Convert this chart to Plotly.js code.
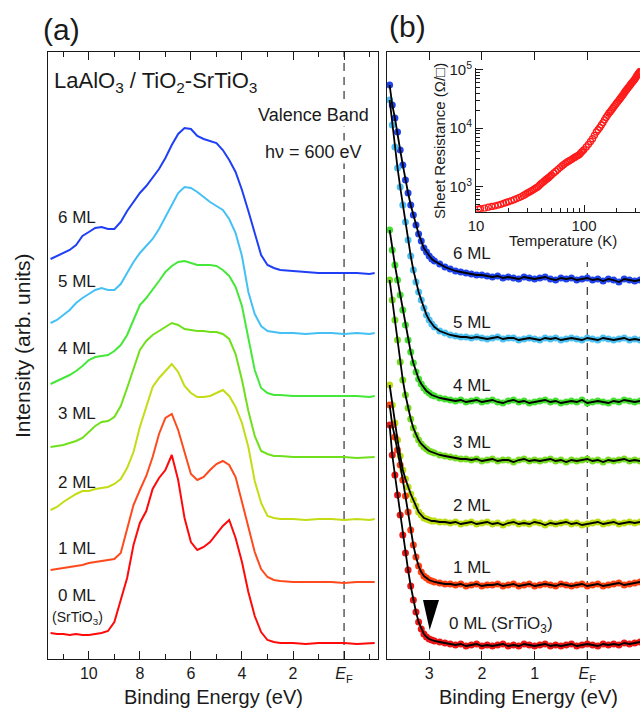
<!DOCTYPE html>
<html><head><meta charset="utf-8">
<script src="https://cdn.plot.ly/plotly-3.0.1.min.js"></script>
<style>html,body{margin:0;padding:0;background:#fff}#chart{width:640px;height:713px}</style>
</head><body><div id="chart"></div>
<script>
// ---------- Panel (a): valence band spectra ----------
const energyA = [11.5,11.25,11.0,10.75,10.5,10.25,10.0,9.75,9.5,9.25,9.0,8.75,8.5,8.25,8.0,7.75,7.5,7.25,7.0,6.75,6.5,6.25,6.0,5.75,5.5,5.25,5.0,4.75,4.5,4.25,4.0,3.75,3.5,3.25,3.0,2.75,2.5,2.0,1.5,1.0,0.5,0.0,-0.5,-1.0,-1.2];
const vb6ML = [401,404,407,410,415,424,428,432,433,431,431,438,449,458,467,474,482,491,502,515,526,532,531,524,521,519,517,510,500,488,470,449,427,405,395,392,390,389,388,387,387,387,387,386,387];
const vb5ML = [337,340,345,350,357,362,366,370,372,370,370,376,387,398,407,414,421,431,443,455,467,473,472,468,463,458,454,450,441,427,404,368,346,334,329,328,327,327,326,327,327,326,327,326,327];
const vb4ML = [276,279,282,285,289,294,300,303,304,305,309,315,325,340,355,362,370,379,388,394,398,399,397,395,395,395,394,390,384,373,354,320,290,272,267,265,265,264,264,264,264,264,264,263,264];
const vb3ML = [213,214,215,217,219,222,228,234,238,239,243,254,272,291,310,319,325,329,333,337,335,331,330,329,329,328,328,326,321,306,280,249,224,209,206,204,204,203,203,203,203,203,202,203,203];
const vb2ML = [150,153,158,162,166,169,169,171,172,173,176,181,192,208,233,254,273,282,289,296,288,274,267,263,263,264,267,270,264,253,237,213,179,157,144,142,141,141,140,141,141,140,141,140,141];
const vb1ML = [90,91,92,93,94,95,97,98,99,100,101,107,130,155,170,184,203,226,242,246,230,207,186,180,183,190,196,199,195,183,157,132,108,91,83,80,79,78,78,78,78,77,78,78,78];
const vb0ML = [27,26,26,25,26,25,25,26,27,29,38,60,82,115,137,149,171,182,190,205,180,142,118,110,113,118,126,134,140,122,98,68,44,28,20,18,17,17,16,17,17,17,16,17,17];

// ---------- Panel (b): band-edge region ----------
const energyB = [3.75,3.7,3.65,3.6,3.55,3.5,3.45,3.4,3.35,3.3,3.25,3.2,3.15,3.1,3.05,3.0,2.95,2.9,2.8,2.7,2.6,2.5,2.4,2.3,2.2,2.1,2.0,1.9,1.8,1.7,1.6,1.5,1.4,1.3,1.2,1.1,1.0,0.9,0.8,0.7,0.6,0.5,0.4,0.3,0.2,0.1,0.0,-0.1,-0.2,-0.3,-0.4,-0.5,-0.6,-0.7,-0.8,-0.9,-1.0];
const edge6ML = [575,555,542,528,510,495,480,467,455,445,435,426,419,412,408,404,401,399,396,393,391,389,388,387,386,385,385,384,383,384,382,383,382,381,383,382,381,382,383,381,380,382,381,382,380,381,382,380,381,379,381,380,378,381,380,379,380];
const edge5ML = [560,535,513,492,473,455,438,420,404,390,378,368,360,352,345,340,336,333,329,327,325,324,323,323,322,323,322,321,322,323,321,322,322,320,321,322,321,320,322,321,322,320,321,322,321,320,322,321,320,322,321,320,321,322,320,321,320];
const edge4ML = [430,410,395,380,365,350,335,320,308,297,288,281,276,272,269,267,265,264,262,261,260,259,260,258,259,260,258,259,260,258,257,259,260,258,259,257,258,259,260,258,259,257,258,259,258,260,257,258,259,258,257,259,258,260,259,258,259];
const edge3ML = [380,360,340,320,298,280,265,252,241,232,225,220,216,213,211,209,208,207,205,204,203,202,201,201,200,201,199,200,201,199,200,200,198,200,201,199,200,199,200,201,199,200,198,200,199,200,201,199,200,198,200,199,200,201,199,200,199];
const edge2ML = [275,255,237,220,204,190,181,173,166,160,154,148,145,142,141,140,139,139,138,138,137,138,136,137,138,136,137,138,136,137,135,137,138,136,137,136,138,137,135,137,136,137,138,136,137,135,136,137,138,136,137,138,136,137,138,137,138];
const edge1ML = [255,235,223,210,195,180,164,148,130,115,103,94,88,84,82,80,79,78,77,76,76,75,76,74,75,76,74,75,75,76,74,75,76,74,75,76,74,75,76,75,74,76,75,74,75,76,74,75,76,74,75,76,77,75,76,77,78];
const edge0ML = [235,205,185,165,145,125,107,90,74,60,48,38,31,26,23,21,20,19,18,17,16,15,16,14,15,16,14,15,14,15,16,14,15,14,16,15,14,15,16,14,15,14,15,16,14,15,16,15,14,16,15,16,15,17,16,17,18];

// ---------- Inset: sheet resistance vs temperature ----------
const tempK = [10.5,11,12,13,14,15,16,17,18,19,20,21.25,22.5,23.75,25,26.25,27.5,28.75,30,31.25,32.5,33.75,35,36.25,37.5,38.75,40,41.25,42.5,43.75,45,46.25,47.5,48.75,50,52.5,55,57.5,60,62.5,65,67.5,70,72.5,75,77.5,80,82.5,85,87.5,90,92.5,95,97.5,100,105,110,115,120,125,130,135,140,145,150,155,160,165,170,175,180,185,190,195,200,205,210,215,220,225,230,235,240,245,250,255,260,265,270,275,280,285,290,295,300,305,310,315,320,325,330];
const sheetR = [412,418,428,445,458,470,484,498,518,535,552,575,598,624,650,677,705,740,780,812,845,882,920,960,1000,1060,1120,1175,1230,1285,1340,1395,1450,1515,1580,1710,1840,1980,2120,2260,2400,2530,2650,2750,2850,2960,3080,3190,3300,3400,3500,3690,3900,4100,4300,4780,5300,5920,6600,7550,8600,9400,10300,11350,12500,13900,15300,16600,18000,19200,20500,22000,23500,25100,26700,28300,30000,31700,33500,35500,37500,39700,42000,44200,46500,48700,51000,53500,56000,58500,61000,63500,66000,69000,72000,76000,80000,83500,87000,90500,94000];

const labelsML = ['6 ML','5 ML','4 ML','3 ML','2 ML','1 ML','0 ML'];
const seriesA = [vb6ML,vb5ML,vb4ML,vb3ML,vb2ML,vb1ML,vb0ML];
const seriesB = [edge6ML,edge5ML,edge4ML,edge3ML,edge2ML,edge1ML,edge0ML];
const colorsA = ['#1f3ff5','#45c0f5','#45e83a','#70e01c','#c3dc14','#ff4a1e','#ff0a0a'];
const colorsB = ['#1f44ee','#4cc0f2','#44e030','#77dd22','#bbdd11','#ff4010','#ee1515'];

const W=640,H=713;
const px=x=>x/W, py=y=>1-y/H;
const FONT='Liberation Sans, Arial, Helvetica, sans-serif';
const INK='#1a1a1a';

const traces=[];
seriesA.forEach((s,i)=>{
  traces.push({x:energyA,y:s,xaxis:'x',yaxis:'y',mode:'lines',line:{color:colorsA[i],width:2},name:labelsML[i]});
});
seriesB.forEach((s,i)=>{
  traces.push({x:energyB,y:s,xaxis:'x2',yaxis:'y2',mode:'markers',marker:{color:colorsB[i],size:7},name:labelsML[i]+' data'});
});
seriesB.forEach((s,i)=>{
  traces.push({x:energyB,y:s,xaxis:'x2',yaxis:'y2',mode:'lines',line:{color:'#000',width:1.8},name:labelsML[i]+' fit'});
});
traces.push({x:tempK,y:sheetR,xaxis:'x3',yaxis:'y3',mode:'markers',
  marker:{symbol:'circle-open',size:6,color:'#ff1a1a',line:{width:1.3,color:'#ff1a1a'}},name:'R_s'});

const EF='<i>E</i><sub>F</sub>';
const axBase={showgrid:false,zeroline:false,showline:true,linecolor:INK,linewidth:1,tickcolor:INK,tickwidth:1,
  tickfont:{family:FONT,size:16,color:INK}};

const layout={
  width:W,height:H,margin:{l:0,r:0,t:0,b:0},paper_bgcolor:'#fff',plot_bgcolor:'rgba(0,0,0,0)',
  showlegend:false,hovermode:false,font:{family:FONT,color:INK},
  xaxis:Object.assign({},axBase,{domain:[px(48),px(378)],range:[11.6,-1.33],anchor:'y',mirror:'ticks',
    ticks:'inside',ticklen:8,tickmode:'array',tickvals:[10,8,6,4,2,0],ticktext:['10','8','6','4','2',EF],
    minor:{tickmode:'array',tickvals:[11,9,7,5,3,1,-1],ticks:'inside',ticklen:5,tickcolor:INK}}),
  yaxis:Object.assign({},axBase,{domain:[py(659),py(52)],range:[1,608],anchor:'x',mirror:true,ticks:'',showticklabels:false}),
  xaxis2:Object.assign({},axBase,{domain:[px(387),1],range:[3.8,-1.0],anchor:'y2',mirror:'ticks',
    ticks:'inside',ticklen:8,tickmode:'array',tickvals:[3,2,1,0],ticktext:['3','2','1',EF]}),
  yaxis2:Object.assign({},axBase,{domain:[py(659),py(52)],range:[1,608],anchor:'x2',ticks:'',showticklabels:false}),
  xaxis3:Object.assign({},axBase,{type:'log',domain:[px(476),1],range:[1,Math.log10(330)],anchor:'y3',
    ticks:'inside',ticklen:7,tickmode:'array',tickvals:[10,100],ticktext:['10','100'],tickfont:{family:FONT,size:15,color:INK},
    minor:{tickmode:'array',tickvals:[20,30,40,50,60,70,80,90,200,300],ticks:'inside',ticklen:4,tickcolor:INK}}),
  yaxis3:Object.assign({},axBase,{type:'log',domain:[py(211.7),py(68)],range:[2.571,5.03],anchor:'x3',
    ticks:'inside',ticklen:7,tickmode:'array',tickvals:[1e3,1e4,1e5],
    ticktext:['10<sup>3</sup>','10<sup>4</sup>','10<sup>5</sup>'],tickfont:{family:FONT,size:15,color:INK},
    minor:{tickmode:'array',tickvals:[400,500,600,700,800,900,2000,3000,4000,5000,6000,7000,8000,9000,20000,30000,40000,50000,60000,70000,80000,90000],ticks:'inside',ticklen:4,tickcolor:INK}}),
  shapes:[
    {type:'line',xref:'x',yref:'y',x0:0,x1:0,y0:1,y1:608,line:{color:'#333',width:1.2,dash:'8px,6px'},layer:'below'},
    {type:'line',xref:'x2',yref:'y2',x0:0,x1:0,y0:1,y1:398,line:{color:'#333',width:1.2,dash:'8px,6px'},layer:'below'},
    {type:'path',xref:'x2',yref:'y2',path:'M 3.117 60 L 2.813 60 L 2.99 30 Z',fillcolor:'#000',line:{width:0}}
  ],
  annotations:[]
};
function ann(text,x,y,size,opts){
  layout.annotations.push(Object.assign({text:text,x:px(x),y:py(y),xref:'paper',yref:'paper',showarrow:false,
    xanchor:'center',yanchor:'middle',font:{family:FONT,size:size,color:INK}},opts||{}));
}
ann('(a)',61,29,30);
ann('(b)',407,27,30);
ann('LaAlO<sub>3</sub> / TiO<sub>2</sub>-SrTiO<sub>3</sub>',52,82,22,{xanchor:'left'});
ann('Valence Band',313,115,18,{bgcolor:'#fff'});
ann('h\u03bd = 600 eV',313,152,18,{bgcolor:'#fff'});
const yA=[217,281,348,413,483,548,595];
labelsML.forEach((t,i)=>ann(t,77,yA[i],17));
ann('(SrTiO<sub>3</sub>)',77,618,14);
const yB=[254,322,385,443,505,567];
labelsML.slice(0,6).forEach((t,i)=>ann(t,472,yB[i],17));
ann('0 ML (SrTiO<sub>3</sub>)',501,625,17);
ann('Binding Energy (eV)',213,697,20);
ann('Binding Energy (eV)',528,697,20);
ann('Intensity (arb. units)',22,346,21,{textangle:-90});
ann('Sheet Resistance (\u03a9/\u25a1)',439,141,15,{textangle:-90});
ann('Temperature (K)',563,240,15);

Plotly.newPlot('chart',traces,layout,{displayModeBar:false,staticPlot:true});
</script></body></html>
